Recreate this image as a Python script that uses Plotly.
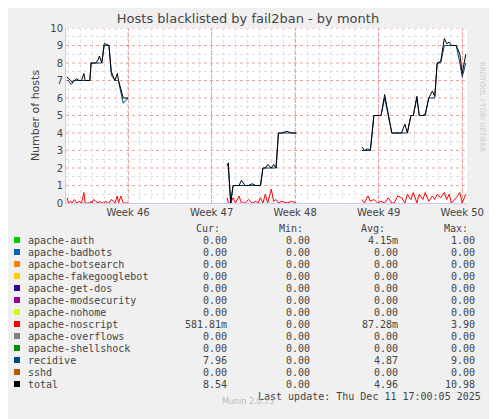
import plotly.graph_objects as go

# x positions in days (Week 46 = day 7, one week = 7 days)
x_seg1 = [1.9, 2.0, 2.2, 2.3, 2.5, 2.7, 2.9, 3.1, 3.3, 3.4, 3.8, 3.9, 4.0, 4.1, 4.3, 4.5, 4.6, 4.8, 5.0, 5.1, 5.3, 5.4, 5.6, 5.9, 6.1, 6.2, 6.4, 6.6, 7.0]
total_1 = [7.2, 7.1, 7.0, 6.9, 7.0, 7.1, 7.0, 7.0, 7.4, 7.0, 7.0, 8.0, 8.0, 8.0, 8.0, 8.2, 8.4, 8.0, 9.1, 9.1, 9.0, 9.0, 7.5, 7.0, 7.4, 7.0, 6.5, 6.0, 6.0]
recid_1 = [7.0, 7.0, 6.8, 6.8, 7.0, 7.0, 7.0, 7.0, 7.0, 7.0, 7.0, 8.0, 8.0, 8.0, 8.0, 8.0, 8.0, 8.0, 9.0, 9.0, 9.0, 9.0, 7.3, 7.0, 7.0, 7.0, 6.3, 5.7, 6.0]
noscr_1 = [0.3, 0.0, 0.1, 0.0, 0.2, 0.0, 0.1, 0.0, 0.6, 0.0, 0.0, 0.1, 0.0, 0.2, 0.1, 0.0, 0.1, 0.0, 0.0, 0.1, 0.0, 0.0, 0.2, 0.0, 0.4, 0.0, 0.4, 0.0, 0.0]

x_seg2 = [15.3, 15.4, 15.6, 15.8, 16.0, 16.3, 16.5, 16.8, 17.1, 17.4, 17.7, 17.9, 18.1, 18.3, 18.5, 18.7, 19.0, 19.2, 19.4, 19.6, 19.9, 20.3, 20.7, 21.1]
total_2 = [2.1, 2.3, 0.0, 1.0, 1.0, 1.0, 1.3, 1.0, 1.0, 1.1, 1.0, 1.0, 1.0, 2.0, 2.0, 2.2, 2.0, 2.2, 2.0, 4.0, 4.0, 4.1, 4.0, 4.0]
recid_2 = [2.0, 2.0, 0.0, 1.0, 1.0, 1.0, 1.0, 1.0, 1.0, 1.0, 1.0, 1.0, 1.0, 2.0, 2.0, 2.0, 2.0, 2.0, 2.0, 4.0, 4.0, 4.0, 4.0, 4.0]
noscr_2 = [0.3, 0.0, 0.0, 0.3, 0.0, 0.4, 0.0, 0.0, 0.2, 0.0, 0.1, 0.0, 0.3, 0.0, 0.5, 0.0, 0.8, 0.1, 0.2, 0.0, 0.1, 0.0, 0.1, 0.0]

x_seg3 = [26.6, 26.8, 27.1, 27.3, 27.6, 27.9, 28.2, 28.5, 28.8, 29.1, 29.3, 29.6, 29.9, 30.2, 30.4, 30.7, 30.9, 31.2, 31.4, 31.7, 31.9, 32.2, 32.5, 32.7, 32.9, 33.2, 33.5, 33.7, 33.9, 34.1]
total_3 = [3.2, 3.0, 3.1, 3.0, 5.0, 5.0, 5.0, 6.2, 5.0, 4.0, 4.0, 4.0, 4.0, 4.5, 4.0, 5.0, 5.0, 6.1, 5.0, 5.0, 5.1, 6.0, 6.4, 6.1, 8.0, 8.1, 9.4, 9.1, 9.2, 9.0]
recid_3 = [3.0, 3.0, 3.0, 3.0, 5.0, 5.0, 5.0, 6.0, 5.0, 4.0, 4.0, 4.0, 4.0, 4.0, 4.0, 5.0, 5.0, 6.0, 5.0, 5.0, 5.0, 6.0, 6.0, 6.0, 8.0, 8.0, 9.0, 9.0, 9.0, 9.0]
noscr_3 = [0.2, 0.0, 0.4, 0.1, 0.2, 0.0, 0.1, 0.0, 0.3, 0.0, 0.0, 0.4, 0.3, 0.0, 0.5, 0.2, 0.6, 0.0, 0.5, 0.2, 0.6, 0.1, 0.4, 0.2, 0.5, 0.3, 0.6, 0.2, 0.5, 0.0]

x_tail = [34.5, 34.8, 35.0, 35.3]
total_tail = [9.0, 8.5, 7.4, 8.5]
recid_tail = [9.0, 8.0, 7.2, 8.0]
noscr_tail = [0.3, 0.6, 0.0, 0.5]

week_pos = [7, 14, 21, 28, 35]
week_labels = ["Week 46", "Week 47", "Week 48", "Week 49", "Week 50"]

legend_names = ["apache-auth", "apache-badbots", "apache-botsearch", "apache-fakegooglebot",
                "apache-get-dos", "apache-modsecurity", "apache-nohome", "apache-noscript",
                "apache-overflows", "apache-shellshock", "recidive", "sshd", "total"]
legend_colors = ["#00cc00", "#0066b3", "#ff8000", "#ffcc00", "#330099", "#990099",
                 "#ccff00", "#ff0000", "#808080", "#008f00", "#00487d", "#b35a00", "#000000"]
cur_vals = ["0.00", "0.00", "0.00", "0.00", "0.00", "0.00", "0.00", "581.81m", "0.00", "0.00", "7.96", "0.00", "8.54"]
min_vals = ["0.00"] * 13
avg_vals = ["4.15m", "0.00", "0.00", "0.00", "0.00", "0.00", "0.00", "87.28m", "0.00", "0.00", "4.87", "0.00", "4.96"]
max_vals = ["1.00", "0.00", "0.00", "0.00", "0.00", "0.00", "0.00", "3.90", "0.00", "0.00", "9.00", "0.00", "10.98"]

# page body has an 8px margin; screen pixel -> figure pixel
OFF = 8
PL, PT, PR, PB = 66 - OFF, 28 - OFF, 467 - OFF, 203 - OFF
PW, PH = PR - PL, PB - PT


def px_x(p):
    return (p - OFF - PL) / PW


def px_y(p):
    return (PB - (p - OFF)) / PH


def join(a, b, c, d):
    return a + [None] + b + [None] + c + d


xs = join(x_seg1, x_seg2, x_seg3, x_tail)
fig = go.Figure()
fig.add_trace(go.Scatter(x=xs, y=join(noscr_1, noscr_2, noscr_3, noscr_tail), mode="lines",
                         line={"color": "#ff0000", "width": 1}))
fig.add_trace(go.Scatter(x=xs, y=join(recid_1, recid_2, recid_3, recid_tail), mode="lines",
                         line={"color": "#00487d", "width": 1}))
fig.add_trace(go.Scatter(x=xs, y=join(total_1, total_2, total_3, total_tail), mode="lines",
                         line={"color": "#000000", "width": 1}))

for w in week_pos:
    fig.add_vline(x=w, line={"color": "rgba(230,120,120,0.7)", "width": 1, "dash": "dot"}, layer="below")
for v in range(1, 11):
    fig.add_hline(y=v, line={"color": "rgba(230,120,120,0.7)", "width": 1, "dash": "dot"}, layer="below")

mono = "DejaVu Sans Mono"
ann = []
row_y0 = 240
for i, name in enumerate(legend_names):
    yy = row_y0 + 12 * i
    fig.add_shape(type="rect", xref="paper", yref="paper",
                  x0=px_x(14), x1=px_x(20), y0=px_y(yy - 3), y1=px_y(yy + 3),
                  fillcolor=legend_colors[i], line={"width": 0})
    ann.append((26, yy, name, "left"))
    ann.append((229, yy, cur_vals[i], "right"))
    ann.append((312, yy, min_vals[i], "right"))
    ann.append((477, yy, max_vals[i], "right"))
    ann.append((400, yy, avg_vals[i], "right"))
for px_, lab in [(222, "Cur:"), (305, "Min:"), (387, "Avg:"), (470, "Max:")]:
    ann.append((px_, 228, lab, "right"))
ann.append((483, 396, "Last update: Thu Dec 11 17:00:05 2025", "right"))

annotations = []
for px_, py_, text, align in ann:
    annotations.append(dict(x=px_x(px_), y=px_y(py_), xref="paper", yref="paper",
                            text=text, showarrow=False, xanchor=align, yanchor="middle",
                            font={"family": mono, "size": 10, "color": "#444"}))
annotations.append(dict(x=px_x(248), y=px_y(408), xref="paper", yref="paper",
                        text="Munin 2.0.73", showarrow=False, font={"family": "DejaVu Sans", "size": 8, "color": "#bbb"}))
annotations.append(dict(x=px_x(488), y=px_y(60), xref="paper", yref="paper",
                        text="RRDTOOL / TOBI OETIKER", showarrow=False, textangle=90,
                        font={"family": "DejaVu Sans", "size": 7, "color": "#ccc"}))

fig.update_layout(
    width=497, height=419,
    margin={"l": PL, "r": 497 - PR, "t": PT, "b": 419 - PB},
    paper_bgcolor="#f0f0f0", plot_bgcolor="#ffffff",
    showlegend=False,
    title={"text": "Hosts blacklisted by fail2ban - by month", "x": px_x(248), "xref": "paper",
           "y": 1 - (18 - OFF) / 419, "xanchor": "center", "yanchor": "middle",
           "font": {"family": "DejaVu Sans", "size": 13, "color": "#444"}},
    annotations=annotations,
    font={"family": "DejaVu Sans", "size": 10, "color": "#444"},
)
fig.update_xaxes(range=[1.8, 35.4], tickvals=week_pos, ticktext=week_labels,
                 showgrid=True, gridcolor="rgba(230,120,120,0.6)", griddash="dot",
                 minor={"dtick": 1, "showgrid": True, "gridcolor": "#e0e0e0", "griddash": "dot"},
                 zeroline=False, showline=True, linecolor="#c8c8ff", ticks="", fixedrange=True)
fig.update_yaxes(range=[0, 10], dtick=1, showgrid=False,
                 minor={"dtick": 0.5, "showgrid": True, "gridcolor": "#dddddd", "griddash": "dot"},
                 zeroline=False, showline=True, linecolor="#c8c8ff",
                 title={"text": "Number of hosts", "standoff": 8, "font": {"size": 11}})
fig.write_html("out.html")
